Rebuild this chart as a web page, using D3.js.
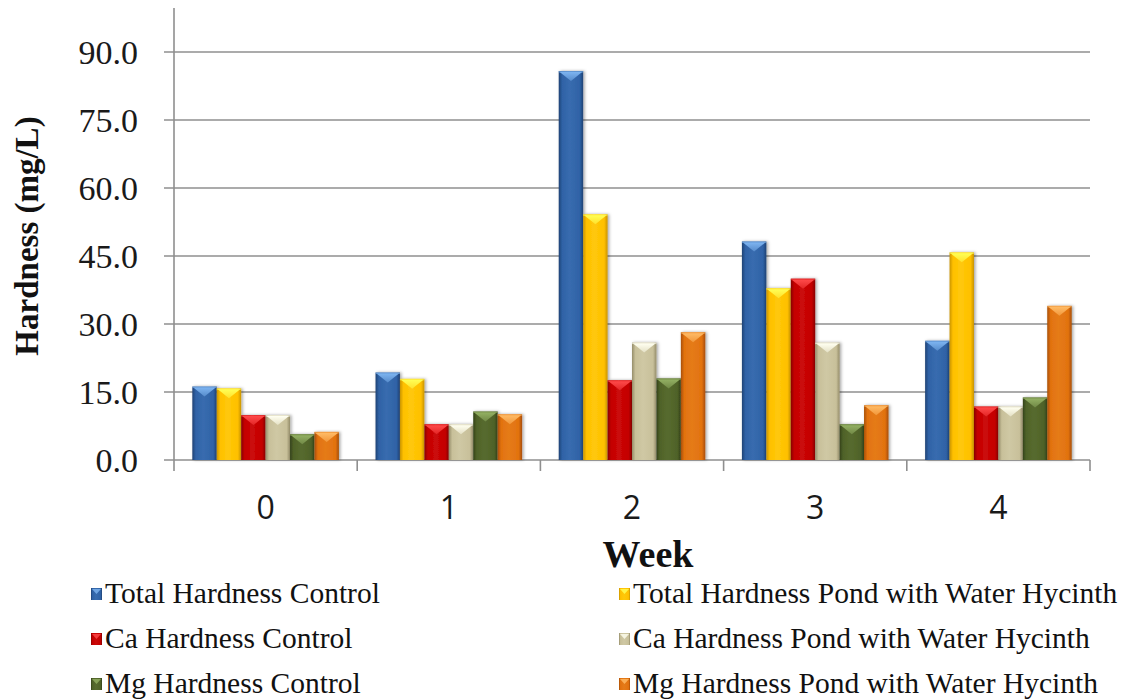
<!DOCTYPE html>
<html>
<head>
<meta charset="utf-8">
<script src="https://cdn.jsdelivr.net/npm/d3@7"></script>
<style>
  html, body { margin: 0; padding: 0; background: #ffffff; }
  svg { display: block; }
</style>
</head>
<body>
<svg id="chart" width="1123" height="700"></svg>
<script>
// Weekly hardness readings (mg/L)
const weeks = ["0", "1", "2", "3", "4"];
const seriesNames = [
  "Total Hardness Control",
  "Total Hardness Pond with Water Hycinth",
  "Ca Hardness Control",
  "Ca Hardness Pond with Water Hycinth",
  "Mg Hardness Control",
  "Mg Hardness Pond with Water Hycinth"
];
const totalControl = [16.2, 19.3, 85.8, 48.2, 26.3];
const totalPond    = [15.8, 17.9, 54.2, 37.9, 45.8];
const caControl    = [9.9, 7.9, 17.6, 40.0, 11.8];
const caPond       = [9.9, 7.9, 25.9, 25.9, 11.8];
const mgControl    = [5.7, 10.7, 18.0, 7.9, 13.8];
const mgPond       = [6.2, 10.1, 28.2, 12.1, 34.0];
const yTicks = [0, 15, 30, 45, 60, 75, 90];

const seriesValues = [totalControl, totalPond, caControl, caPond, mgControl, mgPond];

// base, dark edge, light bevel for each series
const palette = [
  { base: "#2f62a6", dark: "#1f4274", light: "#7db4f0" },
  { base: "#ffc000", dark: "#c99400", light: "#ffff55" },
  { base: "#c40000", dark: "#880000", light: "#ff4a4a" },
  { base: "#c8c09a", dark: "#958d6a", light: "#fffff0" },
  { base: "#4f6228", dark: "#34421a", light: "#93b063" },
  { base: "#e2720f", dark: "#a84e05", light: "#ffbb66" }
];

const serif = "'Liberation Serif', 'Times New Roman', serif";
const svg = d3.select("#chart");
const left = 174, right = 1090, bottom = 460;
const yMaxShown = 99.7;

const x = d3.scaleBand().domain(weeks).range([left, right]).padding(0);
const bw = x.bandwidth();
const barW = bw / 7.5;
const xs = d3.scaleBand().domain(d3.range(seriesNames.length))
  .range([barW * 0.75, bw - barW * 0.75]).padding(0);
const y = d3.scaleLinear().domain([0, 90]).range([bottom, 52]);

// gradients and shadow
const defs = svg.append("defs");
palette.forEach((p, i) => {
  const g = defs.append("linearGradient").attr("id", "bar" + i)
    .attr("x1", "0%").attr("x2", "100%").attr("y1", "0%").attr("y2", "0%");
  g.append("stop").attr("offset", "0%").attr("stop-color", p.dark);
  g.append("stop").attr("offset", "14%").attr("stop-color", p.base);
  g.append("stop").attr("offset", "45%").attr("stop-color", d3.interpolateRgb(p.base, p.light)(0.12));
  g.append("stop").attr("offset", "86%").attr("stop-color", p.base);
  g.append("stop").attr("offset", "100%").attr("stop-color", p.dark);
  const t = defs.append("linearGradient").attr("id", "bevel" + i)
    .attr("x1", "0%").attr("x2", "0%").attr("y1", "0%").attr("y2", "100%");
  t.append("stop").attr("offset", "0%").attr("stop-color", p.light);
  t.append("stop").attr("offset", "100%").attr("stop-color", d3.interpolateRgb(p.light, p.base)(0.5));
});
const f = defs.append("filter").attr("id", "shadow")
  .attr("x", "-30%").attr("y", "-10%").attr("width", "160%").attr("height", "130%");
f.append("feDropShadow").attr("dx", 1.5).attr("dy", 0).attr("stdDeviation", 1.8)
  .attr("flood-color", "#000").attr("flood-opacity", 0.35);

// grid lines with small outside ticks on the left
const gridColor = "#8f8f8f";
svg.append("g").selectAll("line").data(yTicks).join("line")
  .attr("x1", left - 10).attr("x2", right)
  .attr("y1", d => y(d)).attr("y2", d => y(d))
  .attr("stroke", gridColor).attr("stroke-width", 1.6);

// vertical value axis line
svg.append("line")
  .attr("x1", left).attr("x2", left)
  .attr("y1", y(yMaxShown)).attr("y2", bottom)
  .attr("stroke", gridColor).attr("stroke-width", 1.6);

// y tick labels
const yAxis = d3.axisLeft(y).tickValues(yTicks).tickFormat(d3.format(".1f")).tickSize(0).tickPadding(0);
const yg = svg.append("g").attr("transform", `translate(${left - 36},0)`).call(yAxis);
yg.select(".domain").remove();
yg.selectAll("text")
  .attr("font-family", serif)
  .attr("font-size", 34).attr("fill", "#1a1a1a").attr("dy", "0.34em");

// category axis: baseline and boundary ticks
const bounds = weeks.map(w => x(w)).concat([right]);
svg.append("g").selectAll("line").data(bounds).join("line")
  .attr("x1", d => d).attr("x2", d => d)
  .attr("y1", bottom).attr("y2", bottom + 11)
  .attr("stroke", gridColor).attr("stroke-width", 1.6);

const xAxis = d3.axisBottom(x).tickSize(0).tickPadding(0);
const xg = svg.append("g").attr("transform", `translate(0,${bottom})`).call(xAxis);
xg.select(".domain").remove();
xg.selectAll("text")
  .attr("font-family", "'Open Sans', 'Liberation Sans', sans-serif")
  .attr("font-size", 32).attr("fill", "#1a1a1a").attr("dy", "1.85em");

// bars
const groups = svg.append("g").selectAll("g").data(weeks).join("g")
  .attr("transform", d => `translate(${x(d)},0)`);

groups.each(function(w, wi) {
  const g = d3.select(this);
  seriesValues.forEach((vals, si) => {
    const v = vals[wi];
    const bx = xs(si), bwid = xs.bandwidth();
    const top = y(v), h = bottom - top;
    const bar = g.append("g");
    bar.append("rect")
      .attr("x", bx).attr("y", top).attr("width", bwid).attr("height", h)
      .attr("fill", `url(#bar${si})`).attr("filter", "url(#shadow)");
    // top bevel
    const bev = Math.min(10, h);
    bar.append("path")
      .attr("d", `M${bx + 1},${top + 1}L${bx + bwid - 1},${top + 1}L${bx + bwid / 2},${top + bev}Z`)
      .attr("fill", `url(#bevel${si})`);
    bar.append("rect")
      .attr("x", bx).attr("y", top).attr("width", bwid).attr("height", 1.5)
      .attr("fill", palette[si].light).attr("opacity", 0.6);
  });
});

// axis titles
svg.append("text")
  .attr("transform", `translate(38,236) rotate(-90)`)
  .attr("text-anchor", "middle")
  .attr("font-family", serif)
  .attr("font-weight", "bold").attr("font-size", 33).attr("fill", "#111")
  .text("Hardness (mg/L)");

svg.append("text")
  .attr("x", 648).attr("y", 567).attr("text-anchor", "middle")
  .attr("font-family", serif)
  .attr("font-weight", "bold").attr("font-size", 38).attr("fill", "#111")
  .text("Week");

// legend: two columns, three rows
const legend = svg.append("g");
const colX = [91, 619];
const rowY = [594, 639, 684];
seriesNames.forEach((name, i) => {
  const cx = colX[i % 2], cy = rowY[Math.floor(i / 2)];
  const item = legend.append("g");
  item.append("rect")
    .attr("x", cx).attr("y", cy - 6).attr("width", 11).attr("height", 12)
    .attr("fill", `url(#bar${i})`);
  item.append("path")
    .attr("d", `M${cx + 1},${cy - 5}L${cx + 10},${cy - 5}L${cx + 5.5},${cy}Z`)
    .attr("fill", palette[i].light).attr("opacity", 0.8);
  item.append("text")
    .attr("x", cx + 14).attr("y", cy + 9)
    .attr("font-family", serif)
    .attr("font-size", 29.5).attr("fill", "#111")
    .text(name);
});
</script>
</body>
</html>
